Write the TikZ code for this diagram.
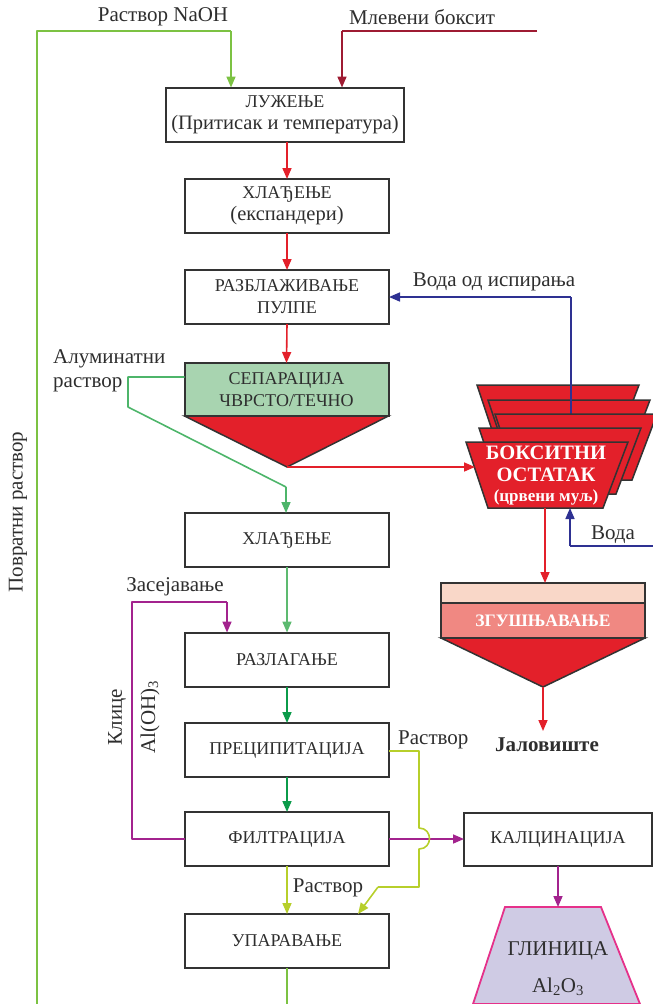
\documentclass[tikz,border=0pt]{standalone}
\usepackage{fontspec}
\setmainfont{Liberation Serif}
\usetikzlibrary{arrows.meta}
\definecolor{boxc}{HTML}{333333}
\definecolor{txt}{HTML}{2E2E2E}
\definecolor{lgreen}{HTML}{7CC243}
\definecolor{dred}{HTML}{9E1B32}
\definecolor{red1}{HTML}{E3202A}
\definecolor{algreen}{HTML}{4DB56A}
\definecolor{mgreen}{HTML}{5DBA70}
\definecolor{dgreen}{HTML}{0B9B4A}
\definecolor{magc}{HTML}{A3238E}
\definecolor{limec}{HTML}{B7CF2B}
\definecolor{bluec}{HTML}{2E3192}
\definecolor{sepg}{HTML}{A8D4B0}
\definecolor{zgl}{HTML}{F9D7C8}
\definecolor{zgp}{HTML}{F08882}
\definecolor{glf}{HTML}{CFCBE4}
\definecolor{glb}{HTML}{E5318A}
\begin{document}
\begin{tikzpicture}[x=1pt,y=-1pt,
  proc/.style={draw=boxc, line width=2pt, fill=white, minimum width=204pt, minimum height=54pt,
    inner sep=1pt, outer sep=0pt, align=center, text=txt, font=\fontsize{18}{22}\selectfont},
  arr/.style={line width=1.6pt, -{Triangle[length=11pt,width=9pt]}},
  ln/.style={line width=1.6pt},
  lbl/.style={text=txt, inner sep=0pt, font=\fontsize{21}{24}\selectfont},
  tri/.style={draw=boxc, line width=1.5pt, fill=red1, line join=miter},
  trap/.style={draw=boxc, line width=1.5pt, fill=red1, line join=miter},
]
\useasboundingbox (0,0) rectangle (653,1004);

% ---------- labels at top ----------
\node[lbl] (naoh) at (163,17) {Раствор NaOH};
\node[lbl] (mb) at (422,17) {Млевени боксит};

% ---------- main boxes ----------
\node[proc, minimum width=238pt] (luz) at (285,114.5) {ЛУЖЕЊЕ\\{\fontsize{20.5}{22}\selectfont (Притисак и температура)}};
\node[proc] (hl1) at (287,206) {ХЛАЂЕЊЕ\\{\fontsize{20.5}{22}\selectfont (експандери)}};
\node[proc] (raz) at (287,297) {РАЗБЛАЖИВАЊЕ\\ПУЛПЕ};
\node[proc, fill=sepg, minimum height=53pt] (sep) at (286.5,389.5) {СЕПАРАЦИЈА\\ЧВРСТО/ТЕЧНО};
\coordinate (sepA) at (287,467);
\draw[tri] (sep.south west) -- (sep.south east) -- (sepA) -- cycle;
\node[proc] (hl2) at (287,540) {ХЛАЂЕЊЕ};
\node[proc] (rzl) at (287,659.5) {РАЗЛАГАЊЕ};
\node[proc] (pre) at (287,750) {ПРЕЦИПИТАЦИЈА};
\node[proc] (fil) at (287,839) {ФИЛТРАЦИЈА};
\node[proc] (upa) at (287,941) {УПАРАВАЊЕ};
\node[proc, minimum width=188pt, minimum height=53pt] (kal) at (558,839) {КАЛЦИНАЦИЈА};

% ---------- top inputs ----------
\coordinate (gTL) at (37,31);
\coordinate (gTR) at (231,31);
\coordinate (gBot) at (37,1004);
\draw[ln, lgreen, line join=round] (gBot) -- (gTL) -- (gTR);
\draw[arr, lgreen] (gTR) -- (gTR |- luz.north);
\coordinate (rR) at (537,31);
\coordinate (rL) at (342,31);
\draw[ln, dred] (rR) -- (rL);
\draw[arr, dred] (rL) -- (rL |- luz.north);

% ---------- red chain ----------
\draw[arr, red1] (luz.south -| hl1) -- (hl1.north);
\draw[arr, red1] (hl1.south) -- (raz.north);
\draw[arr, red1] (raz.south) -- (sep.north);

% ---------- bauxite residue ----------
\newcommand\bxtrap[2]{\draw[trap] (#1,#2) -- ++(162,0) -- ++(-25,66) -- ++(-115,0) -- cycle;}
\bxtrap{477}{385}
\bxtrap{488}{400}
\coordinate (bxTop) at (571,414);
\coordinate (wBend) at (571,297);
\draw[ln, bluec] (bxTop) -- (wBend);
\draw[arr, bluec] (wBend) -- (raz.east);
\bxtrap{495}{414}
\bxtrap{479}{428}
\bxtrap{466}{442}
\node[text=white, align=center, inner sep=0pt, font=\bfseries\fontsize{20.5}{22}\selectfont] (bx) at (546,464)
  {БОКСИТНИ\\ОСТАТАК};
\node[text=white, inner sep=0pt, font=\bfseries\fontsize{17}{18}\selectfont] (bxs) at (546,497) {(црвени муљ)};
\coordinate (bxW) at (475,467);
\coordinate (bxS) at (545,508);
\coordinate (bxB) at (570,508);
\draw[arr, red1] (sepA) -- (bxW);
\node[lbl] (vip) at (494,282) {Вода од испирања};

% water
\coordinate (wR) at (653,546);
\coordinate (wC) at (570,546);
\draw[ln, bluec] (wR) -- (wC);
\draw[arr, bluec] (wC) -- (bxB);
\node[lbl] (voda) at (613,535) {Вода};

% ---------- thickening ----------
\node[draw=boxc, line width=1.5pt, fill=zgp, minimum width=204pt, minimum height=35pt, inner sep=0pt, outer sep=0pt,
  text=white, font=\bfseries\fontsize{17.5}{19}\selectfont] (zg) at (543,620.5) {ЗГУШЊАВАЊЕ};
\draw[draw=boxc, line width=1.5pt, fill=zgl] (zg.north west) rectangle ++(204,-20);
\coordinate (zgA) at (543,687);
\draw[tri] (zg.south west) -- (zg.south east) -- (zgA) -- cycle;
\draw[arr, red1] (bxS) -- (bxS |- 0,583);
\node[text=txt, inner sep=0pt, font=\bfseries\fontsize{21}{24}\selectfont] (jal) at (547,745) {Јаловиште};
\draw[arr, red1] (zgA) -- (543,731);

% ---------- aluminate solution ----------
\node[lbl, align=left, anchor=west, font=\fontsize{21}{24}\selectfont] (alu) at (53,371) {Алуминатни\\раствор};
\coordinate (a1) at (128,377);
\coordinate (a2) at (128,407);
\coordinate (a3) at (286,487);
\draw[ln, algreen, line join=round] (sep.west |- a1) -- (a1) -- (a2) -- (a3);
\draw[arr, algreen] (a3) -- (hl2.north -| a3);

\draw[arr, mgreen] (hl2.south) -- (rzl.north);
\draw[arr, dgreen] (rzl.south) -- (pre.north);
\draw[arr, dgreen] (pre.south) -- (fil.north);

% ---------- seeding ----------
\coordinate (m1) at (132,839);
\coordinate (m2) at (132,602);
\coordinate (m3) at (227,602);
\draw[ln, magc, line join=round] (fil.west) -- (m1) -- (m2) -- (m3);
\draw[arr, magc] (m3) -- (m3 |- rzl.north);
\node[lbl] (zas) at (175,587) {Засејавање};
\node[lbl, rotate=90] (klice) at (117,717) {Клице};
\node[lbl, rotate=90] (aloh) at (150,717) {Al(OH)\textsubscript{3}};

% ---------- to calcination ----------
\draw[arr, magc] (fil.east) -- (kal.west);

% ---------- lime solution ----------
\coordinate (l1) at (419,751);
\coordinate (l2) at (419,828);
\coordinate (l3) at (419,849);
\coordinate (l4) at (419,887);
\coordinate (l5) at (378,887);
\coordinate (l6) at (358,914);
\draw[ln, limec, line join=round] (pre.east |- l1) -- (l1) -- (l2) .. controls (433,828) and (433,849) .. (l3) -- (l4) -- (l5);
\draw[arr, limec] (l5) -- (l6);
\draw[arr, limec] (fil.south) -- (upa.north);
\node[lbl] (rast1) at (328,888) {Раствор};
\node[lbl, anchor=west] (rast2) at (398,740) {Раствор};

% ---------- return ----------
\coordinate (upB) at (287,1004);
\draw[ln, lgreen] (upa.south) -- (upB);
\node[lbl, rotate=90] (povr) at (18,512) {Повратни раствор};

% ---------- alumina ----------
\coordinate (gA) at (505,907);
\coordinate (gB) at (601,907);
\coordinate (gC) at (640,1004);
\coordinate (gD) at (473,1004);
\draw[draw=glb, line width=1.8pt, fill=glf, line join=miter] (gA) -- (gB) -- (gC) -- (gD) -- cycle;
\draw[arr, magc] (kal.south) -- (kal.south |- gA);
\node[lbl] (glin) at (558,951) {ГЛИНИЦА};
\node[lbl] (al2) at (558,987) {Al\textsubscript{2}O\textsubscript{3}};
\end{tikzpicture}
\end{document}
